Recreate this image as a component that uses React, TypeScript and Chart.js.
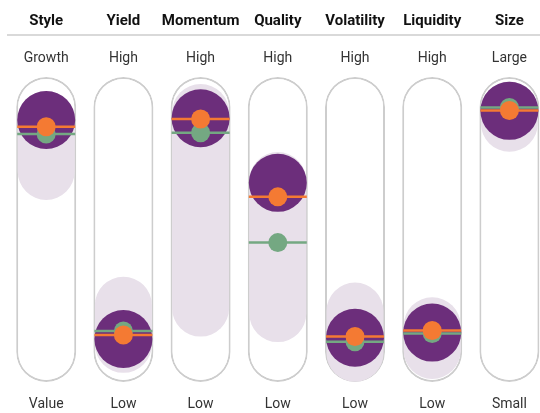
import React, { useEffect, useRef } from "react";
import { Chart, registerables } from "chart.js";

Chart.register(...registerables);

const categories = ["Style", "Yield", "Momentum", "Quality", "Volatility", "Liquidity", "Size"];
const topLabels = ["Growth", "High", "High", "High", "High", "High", "Large"];
const bottomLabels = ["Value", "Low", "Low", "Low", "Low", "Low", "Small"];

// values on a 0 (bottom) .. 100 (top) exposure scale
const rangeLow = [59.7, 3, 14.9, 13.1, 0.1, 1, 75.5];
const rangeHigh = [95.4, 34.5, 97.7, 75.4, 32.6, 27.8, 98.5];
const portfolio = [85.9, 14.1, 86.5, 65.3, 14.5, 16.2, 88.9];
const orangeValues = [83.7, 15.4, 86.2, 60.7, 14.9, 16.9, 89.0];
const greenValues = [81.3, 16.7, 81.7, 45.7, 13.2, 15.9, 90.0];

const FONT = 'Roboto, "Liberation Sans", sans-serif';
const DARK = "#6c2e7b";
const LIGHT = "#e8e0ea";
const ORANGE = "#f47a33";
const GREEN = "#74a882";
const OUTLINE = "#cdcdcd";

const noSidePadding = (h: number) => (s: any) => {
  s.height = h;
  s.paddingLeft = 0;
  s.paddingRight = 0;
};

export default function App() {
  const ref = useRef<HTMLCanvasElement>(null);

  useEffect(() => {
    if (!ref.current) return;
    const full = categories.map(() => [0, 100]);
    const range = categories.map((_, i) => [rangeLow[i], rangeHigh[i]]);
    const chart = new Chart(ref.current, {
      type: "bar",
      data: {
        labels: categories,
        datasets: [
          {
            type: "bar",
            data: full as any,
            backgroundColor: "#ffffff",
            borderColor: OUTLINE,
            borderWidth: 2,
            borderRadius: 40,
            borderSkipped: false,
            grouped: false,
            barPercentage: 60 / 77.2,
            categoryPercentage: 1,
            order: 7,
          } as any,
          {
            type: "bar",
            data: range as any,
            backgroundColor: LIGHT,
            borderWidth: 0,
            borderRadius: 40,
            borderSkipped: false,
            grouped: false,
            barPercentage: 57 / 77.2,
            categoryPercentage: 1,
            order: 6,
          } as any,
          {
            type: "line",
            data: portfolio,
            showLine: false,
            pointStyle: "circle",
            pointRadius: 29,
            pointBackgroundColor: DARK,
            pointBorderWidth: 0,
            order: 5,
          } as any,
          {
            type: "line",
            data: greenValues,
            showLine: false,
            pointStyle: "line",
            pointRadius: 29,
            pointBorderColor: GREEN,
            pointBorderWidth: 2.5,
            order: 4,
          } as any,
          {
            type: "line",
            data: greenValues,
            showLine: false,
            pointStyle: "circle",
            pointRadius: 9.5,
            pointBackgroundColor: GREEN,
            pointBorderWidth: 0,
            order: 3,
          } as any,
          {
            type: "line",
            data: orangeValues,
            showLine: false,
            pointStyle: "line",
            pointRadius: 29,
            pointBorderColor: ORANGE,
            pointBorderWidth: 2.5,
            order: 2,
          } as any,
          {
            type: "line",
            data: orangeValues,
            showLine: false,
            pointStyle: "circle",
            pointRadius: 9.5,
            pointBackgroundColor: ORANGE,
            pointBorderWidth: 0,
            order: 1,
          } as any,
        ],
      },
      options: {
        animation: false,
        responsive: true,
        maintainAspectRatio: false,
        events: [],
        layout: { autoPadding: false, padding: { left: 7.6, right: 0, top: 0, bottom: 0 } },
        plugins: { legend: { display: false }, tooltip: { enabled: false } },
        scales: {
          y: { display: false, min: 0, max: 100 },
          x: {
            type: "category",
            position: "bottom",
            offset: true,
            grid: { display: false, drawTicks: false },
            border: { display: false },
            ticks: {
              padding: 14.4,
              maxRotation: 0,
              autoSkip: false,
              color: "#333333",
              font: { family: FONT, size: 14 },
              callback: (_v: any, i: number) => bottomLabels[i],
            },
            afterFit: noSidePadding(31),
          },
          xTop: {
            type: "category",
            position: "top",
            weight: 1,
            offset: true,
            grid: { display: false, drawTicks: false },
            border: { display: false },
            ticks: {
              padding: 10.2,
              maxRotation: 0,
              autoSkip: false,
              color: "#333333",
              font: { family: FONT, size: 14 },
              callback: (_v: any, i: number) => topLabels[i],
            },
            afterFit: noSidePadding(42),
          },
          xHead: {
            type: "category",
            position: "top",
            weight: 2,
            offset: true,
            grid: { display: false, drawTicks: false },
            border: { display: true, color: "#d9d9d9", width: 2 },
            ticks: {
              padding: 5,
              maxRotation: 0,
              autoSkip: false,
              color: "#111111",
              font: { family: FONT, size: 15, weight: "bold" },
              callback: (_v: any, i: number) => categories[i],
            },
            afterFit: noSidePadding(35),
          },
        } as any,
      },
    });
    return () => chart.destroy();
  }, []);

  return (
    <div style={{ position: "absolute", left: 0, top: 0, width: 540, height: 413, overflow: "hidden", background: "#fff" }}>
      <div style={{ position: "relative", width: 548, height: 413 }}>
        <canvas ref={ref} />
      </div>
    </div>
  );
}
